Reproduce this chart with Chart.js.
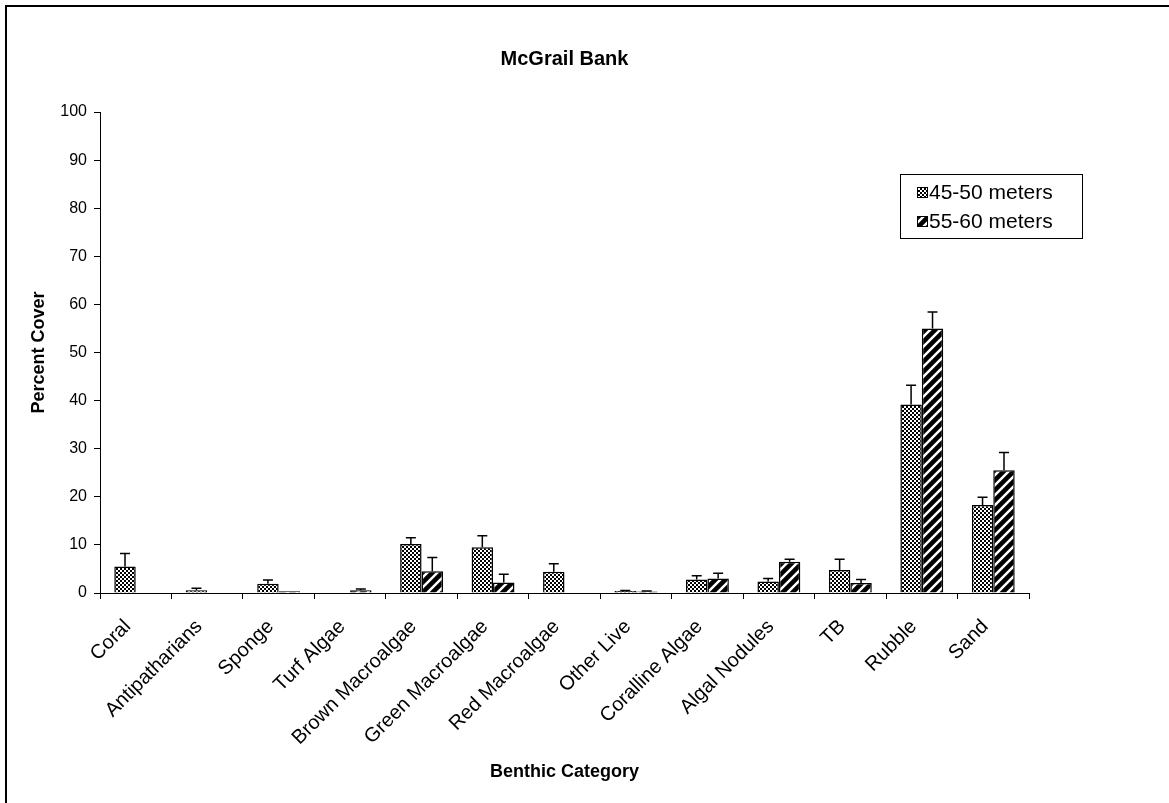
<!DOCTYPE html>
<html>
<head>
<meta charset="utf-8">
<script src="https://cdn.jsdelivr.net/npm/chart.js@4/dist/chart.umd.min.js"></script>
<style>
	html, body { margin: 0; padding: 0; background: #fff; }
	#wrap { position: relative; width: 1169px; height: 803px; }
</style>
</head>
<body>
<div id="wrap"><canvas id="McGrailChart" width="1169" height="803"></canvas></div>
<script>
// categories and values
var categories = ['Coral', 'Antipatharians', 'Sponge', 'Turf Algae', 'Brown Macroalgae', 'Green Macroalgae',
	'Red Macroalgae', 'Other Live', 'Coralline Algae', 'Algal Nodules', 'TB', 'Rubble', 'Sand'];
var shallowValues = [5.5, 0.55, 1.9, 0, 10.2, 9.5, 4.4, 0.4, 2.8, 2.4, 4.8, 39.2, 18.3];
var shallowErrors = [2.7, 0.45, 0.8, 0, 1.3, 2.4, 1.7, 0.1, 0.8, 0.6, 2.2, 4.0, 1.6];
var deepValues = [0.1, 0, 0.35, 0.55, 4.5, 2.2, 0, 0.3, 3.0, 6.5, 2.1, 55.0, 25.5];
var deepErrors = [0, 0, 0, 0.3, 2.9, 1.7, 0, 0.1, 1.1, 0.5, 0.7, 3.4, 3.7];
var seriesLabels = ['45-50 meters', '55-60 meters'];

const FONT = "'Liberation Sans', Arial, sans-serif";

function checkerPattern(ctx) {
	var c = document.createElement('canvas');
	c.width = 4; c.height = 4;
	var g = c.getContext('2d');
	g.fillStyle = '#fff';
	g.fillRect(0, 0, 4, 4);
	g.fillStyle = '#000';
	g.fillRect(0, 0, 2, 2);
	g.fillRect(2, 2, 2, 2);
	return ctx.createPattern(c, 'repeat');
}

function stripePattern(ctx) {
	var c = document.createElement('canvas');
	c.width = 10; c.height = 10;
	var g = c.getContext('2d');
	g.fillStyle = '#000';
	g.fillRect(0, 0, 10, 10);
	g.strokeStyle = '#fff';
	g.lineWidth = 2.5;
	[[-5, 5, 5, -5], [0, 10, 10, 0], [5, 15, 15, 5]].forEach(function (s) {
		g.beginPath();
		g.moveTo(s[0], s[1]);
		g.lineTo(s[2], s[3]);
		g.stroke();
	});
	return ctx.createPattern(c, 'repeat');
}

// frame (only top and left edges show in the picture)
const framePlugin = {
	id: 'frame',
	afterDraw(chart) {
		var ctx = chart.ctx;
		ctx.save();
		ctx.fillStyle = '#000';
		ctx.fillRect(5, 5, 1164, 2);
		ctx.fillRect(5, 5, 2, 798);
		ctx.restore();
	}
};

// upward error bars
const errorBarPlugin = {
	id: 'errorBars',
	afterDatasetsDraw(chart) {
		var ctx = chart.ctx;
		var yScale = chart.scales.y;
		ctx.save();
		ctx.strokeStyle = '#000';
		ctx.lineWidth = 1.5;
		chart.data.datasets.forEach(function (ds, i) {
			var meta = chart.getDatasetMeta(i);
			meta.data.forEach(function (bar, j) {
				var err = ds.errors[j];
				if (!err) return;
				var yTop = yScale.getPixelForValue(ds.data[j] + err);
				ctx.beginPath();
				ctx.moveTo(bar.x, bar.y);
				ctx.lineTo(bar.x, yTop);
				ctx.moveTo(bar.x - 5, yTop);
				ctx.lineTo(bar.x + 5, yTop);
				ctx.stroke();
			});
		});
		ctx.restore();
	}
};

// boxed legend inside the plot, top right
const boxLegendPlugin = {
	id: 'boxLegend',
	afterDraw(chart) {
		var ctx = chart.ctx;
		var left = 900, top = 174, w = 182, h = 64;
		ctx.save();
		ctx.fillStyle = '#fff';
		ctx.fillRect(left, top, w, h);
		ctx.strokeStyle = '#000';
		ctx.lineWidth = 1;
		ctx.strokeRect(left + 0.5, top + 0.5, w, h);
		ctx.font = '21px ' + FONT;
		ctx.textBaseline = 'middle';
		chart.data.datasets.forEach(function (ds, i) {
			var cy = top + 18 + i * 29;
			ctx.fillStyle = ds.backgroundColor;
			ctx.fillRect(917, cy - 5, 11, 11);
			ctx.strokeRect(917.5, cy - 4.5, 10, 10);
			ctx.fillStyle = '#000';
			ctx.fillText(ds.label, 929, cy + 1);
		});
		ctx.restore();
	}
};

document.addEventListener('DOMContentLoaded', initializeMcGrailChart);

function initializeMcGrailChart() {
	const ctx = document.getElementById('McGrailChart').getContext('2d');

	new Chart(ctx, {
		type: 'bar',
		data: {
			labels: categories,
			datasets: [
				{ label: seriesLabels[0], data: shallowValues, errors: shallowErrors,
					backgroundColor: checkerPattern(ctx), borderColor: '#000', borderWidth: 1.5 },
				{ label: seriesLabels[1], data: deepValues, errors: deepErrors,
					backgroundColor: stripePattern(ctx), borderColor: '#000', borderWidth: 1.5 }
			]
		},
		options: {
			responsive: false,
			animation: false,
			layout: { padding: { left: 0, right: 140, top: 0, bottom: 0 } },
			datasets: { bar: { categoryPercentage: 0.6, barPercentage: 1.0 } },
			plugins: {
				legend: { display: false },
				tooltip: { enabled: false },
				title: {
					display: true,
					text: 'McGrail Bank',
					fullSize: false,
					color: '#000',
					font: { family: FONT, size: 20, weight: 'bold' },
					padding: { top: 47, bottom: 41 }
				}
			},
			scales: {
				x: {
					grid: { display: true, offset: true, drawOnChartArea: false, drawTicks: true,
						tickLength: 6, color: '#000', lineWidth: 1 },
					border: { color: '#000', width: 1 },
					ticks: { color: '#000', font: { family: FONT, size: 20 }, maxRotation: 45, minRotation: 45,
						autoSkip: false, padding: 16, labelOffset: -8 },
					title: { display: true, text: 'Benthic Category', color: '#000',
						font: { family: FONT, size: 18, weight: 'bold' }, padding: { top: 0, bottom: 20 } },
					afterFit(scale) { scale.height = 210; }
				},
				y: {
					min: 0,
					max: 100,
					grid: { display: true, drawOnChartArea: false, drawTicks: true, tickLength: 6,
						color: '#000', lineWidth: 1 },
					border: { color: '#000', width: 1 },
					ticks: { stepSize: 10, color: '#000', font: { family: FONT, size: 16 }, padding: 7 },
					title: { display: true, text: 'Percent Cover', color: '#000',
						font: { family: FONT, size: 18, weight: 'bold' }, padding: { top: 28, bottom: 0 } },
					afterFit(scale) { scale.width = 100; }
				}
			}
		},
		plugins: [errorBarPlugin, boxLegendPlugin, framePlugin]
	});
}
</script>
</body>
</html>
